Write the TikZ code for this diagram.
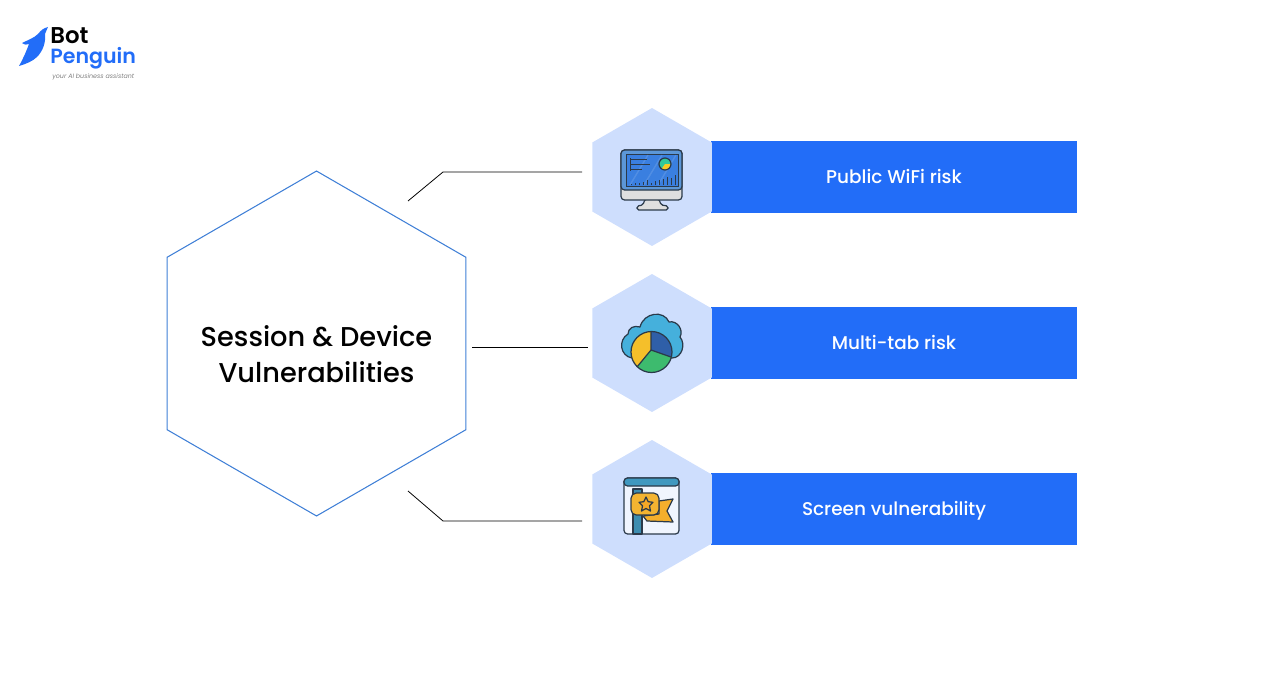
\documentclass[tikz,border=0pt]{standalone}
\usepackage{fontspec}
\setmainfont{Poppins}
\newfontfamily\mediumfont{Poppins Medium}
\newfontfamily\semifont{Poppins SemiBold}
\usetikzlibrary{shapes.geometric}
\definecolor{barblue}{HTML}{226DF8}
\definecolor{hexblue}{HTML}{CEDEFD}
\definecolor{edgeblue}{HTML}{3F7FD6}
\definecolor{inkdark}{HTML}{2B3A4A}
\definecolor{skyblue}{HTML}{45B0DC}
\definecolor{flagyellow}{HTML}{F3B431}
\definecolor{screenblue}{HTML}{3A7FE0}
\definecolor{bezelblue}{HTML}{5C97D8}
\definecolor{piegreen}{HTML}{3DBB6E}
\definecolor{pieblue}{HTML}{2F5FA8}
\tikzset{
    x=0.02cm, y=-0.02cm,
    bigHex/.style={regular polygon, regular polygon sides=6, shape border rotate=30, minimum size=6.9cm, inner sep=0pt, draw=edgeblue, line width=0.6pt},
    bigLabel/.style={align=center, inner sep=0pt, font=\fontsize{15.5}{20.5}\selectfont\mediumfont},
    iconHex/.style={regular polygon, regular polygon sides=6, shape border rotate=30, minimum size=2.76cm, inner sep=0pt, fill=hexblue},
    riskBar/.style={minimum width=7.32cm, minimum height=1.44cm, inner sep=0pt, fill=barblue, text=white, text height=1.35ex, text depth=0.05ex, font=\fontsize{10.5}{13}\selectfont\mediumfont},
    link/.style={draw=black, line width=0.45pt},
    ink/.style={draw=inkdark, line width=0.7pt, line join=round}
}
\begin{document}
\begin{tikzpicture}
    \useasboundingbox (0, 0) rectangle (1288, 686);

    % Logo
    \fill[barblue] (48, 27) .. controls (44, 28) and (41, 30) .. (38, 34) .. controls (34, 38) and (28, 40) .. (22, 43)
        .. controls (25, 45) and (27, 45) .. (29, 44) .. controls (26, 52) and (23, 59) .. (19, 66)
        .. controls (26, 64) and (33, 61) .. (37, 57) .. controls (43, 51) and (46, 42) .. (45, 34) -- cycle;
    \node[anchor=west, inner sep=0pt] (logoBot) at (50, 36) {\fontsize{13}{14}\selectfont\semifont Bot};
    \node[anchor=west, inner sep=0pt, text=barblue] (logoPenguin) at (50, 58) {\fontsize{11.7}{14}\selectfont\semifont Penguin};
    \node[anchor=west, inner sep=0pt, text=gray] (logoTag) at (52, 76.5) {\fontsize{3.6}{5}\selectfont\itshape your AI business assistant};

    % Main hexagon
    \node[bigHex] (mainHex) at (316.5, 343.5) {};
    \node[bigLabel] (mainLabel) at (316.5, 354) {Session \& Device\\Vulnerabilities};

    % Bars
    \node[riskBar] (barWifi) at (894, 177) {Public WiFi risk};
    \node[riskBar] (barTab) at (894, 343) {Multi-tab risk};
    \node[riskBar] (barScreen) at (894, 509) {Screen vulnerability};

    % Icon hexagons
    \node[iconHex] (hexWifi) at (652, 177) {};
    \node[iconHex] (hexTab) at (652, 343) {};
    \node[iconHex] (hexScreen) at (652, 509) {};

    % Connectors
    \coordinate (wifiStart) at (408, 201);
    \coordinate (wifiBend) at (443, 172);
    \coordinate (wifiEnd) at (582, 172);
    \coordinate (tabStart) at (472, 347);
    \coordinate (tabEnd) at (588, 347);
    \coordinate (screenStart) at (408, 491);
    \coordinate (screenBend) at (443, 521);
    \coordinate (screenEnd) at (582, 521);
    \draw[link] (wifiStart) -- (wifiBend) -- (wifiEnd);
    \draw[link] (tabStart) -- (tabEnd);
    \draw[link] (screenStart) -- (screenBend) -- (screenEnd);

    % Monitor icon
    \draw[ink, fill=gray!25, rounded corners=1pt] (645, 199) -- (659, 199) -- (661, 205) -- (668, 206) -- (668, 210) -- (637, 210) -- (637, 206) -- (643, 205) -- cycle;
    \draw[ink, fill=gray!25, rounded corners=2pt] (621, 150) rectangle (682, 200);
    \draw[ink, fill=bezelblue, rounded corners=2pt] (621, 150) rectangle (682, 190);
    \draw[inkdark, line width=0.4pt, fill=screenblue] (626, 154) rectangle (678, 186);
    \foreach \hatchx in {630, 644, 658} {
        \draw[white, opacity=0.12, line width=0.8pt] (\hatchx, 185) -- (\hatchx + 18, 155);
    }
    \draw[inkdark, line width=0.5pt] (630, 158) -- (630, 171) (630, 159) -- (647, 159) (630, 164) -- (650, 164) (630, 169) -- (642, 169);
    \fill[skyblue!70!green] (665, 164) circle (6);
    \begin{scope}
        \clip (665, 164) circle (6);
        \fill[flagyellow!70!yellow] (665, 164) -- (672, 164) -- (672, 171) -- (660, 171) -- cycle;
    \end{scope}
    \draw[ink] (665, 164) circle (6);
    \foreach \barx/\bary in {631/184, 635/183, 639/183, 643/182, 647/180, 651/183, 655/181, 659/180, 663/179, 667/177, 671/178, 675/175} {
        \draw[inkdark, line width=0.5pt] (\barx, 185) -- (\barx, \bary);
    }

    % Cloud icon
    \draw[ink, fill=skyblue] (632, 358) .. controls (620, 356) and (618, 340) .. (628, 334) .. controls (628, 328) and (634, 325) .. (640, 327)
        .. controls (644, 312) and (664, 310) .. (669, 322) .. controls (677, 320) and (684, 330) .. (680, 337)
        .. controls (686, 344) and (682, 358) .. (672, 358) -- cycle;
    \begin{scope}
        \clip (651.5, 352) circle (20.5);
        \fill[flagyellow!85!yellow] (651, 350) -- (651, 325) -- (625, 325) -- (625, 385) -- (637, 367) -- cycle;
        \fill[pieblue] (651, 350) -- (651, 325) -- (680, 325) -- (680, 360) -- (671, 357) -- cycle;
        \fill[piegreen] (651, 350) -- (671, 357) -- (680, 360) -- (680, 380) -- (625, 385) -- (637, 367) -- cycle;
    \end{scope}
    \draw[ink] (651.5, 352) circle (20.5);
    \draw[ink] (651, 332) -- (651, 350) -- (671, 357) (651, 350) -- (637, 367);

    % Flag window icon
    \draw[ink, fill=white!70!hexblue, rounded corners=2pt] (624, 478) rectangle (679, 534);
    \draw[ink, fill=skyblue!80!inkdark, rounded corners=2pt] (624, 478) rectangle (679, 486);
    \draw[ink, fill=skyblue!70!inkdark] (633, 489) rectangle (642, 534);
    \draw[ink, fill=flagyellow!90!orange] (643, 516) -- (659, 514) -- (659, 501) -- (673, 499) -- (667, 511) -- (673, 522) -- (647, 521) -- cycle;
    \draw[ink, fill=flagyellow, rounded corners=3pt] (631, 493) rectangle (659, 515);
    \draw[ink, fill=flagyellow!80!orange] (646, 497) -- (648.2, 501.7) -- (653, 502.3) -- (649.5, 505.8) -- (650.5, 511) -- (646, 508.5) -- (641.5, 511) -- (642.5, 505.8) -- (639, 502.3) -- (643.8, 501.7) -- cycle;
\end{tikzpicture}
\end{document}
